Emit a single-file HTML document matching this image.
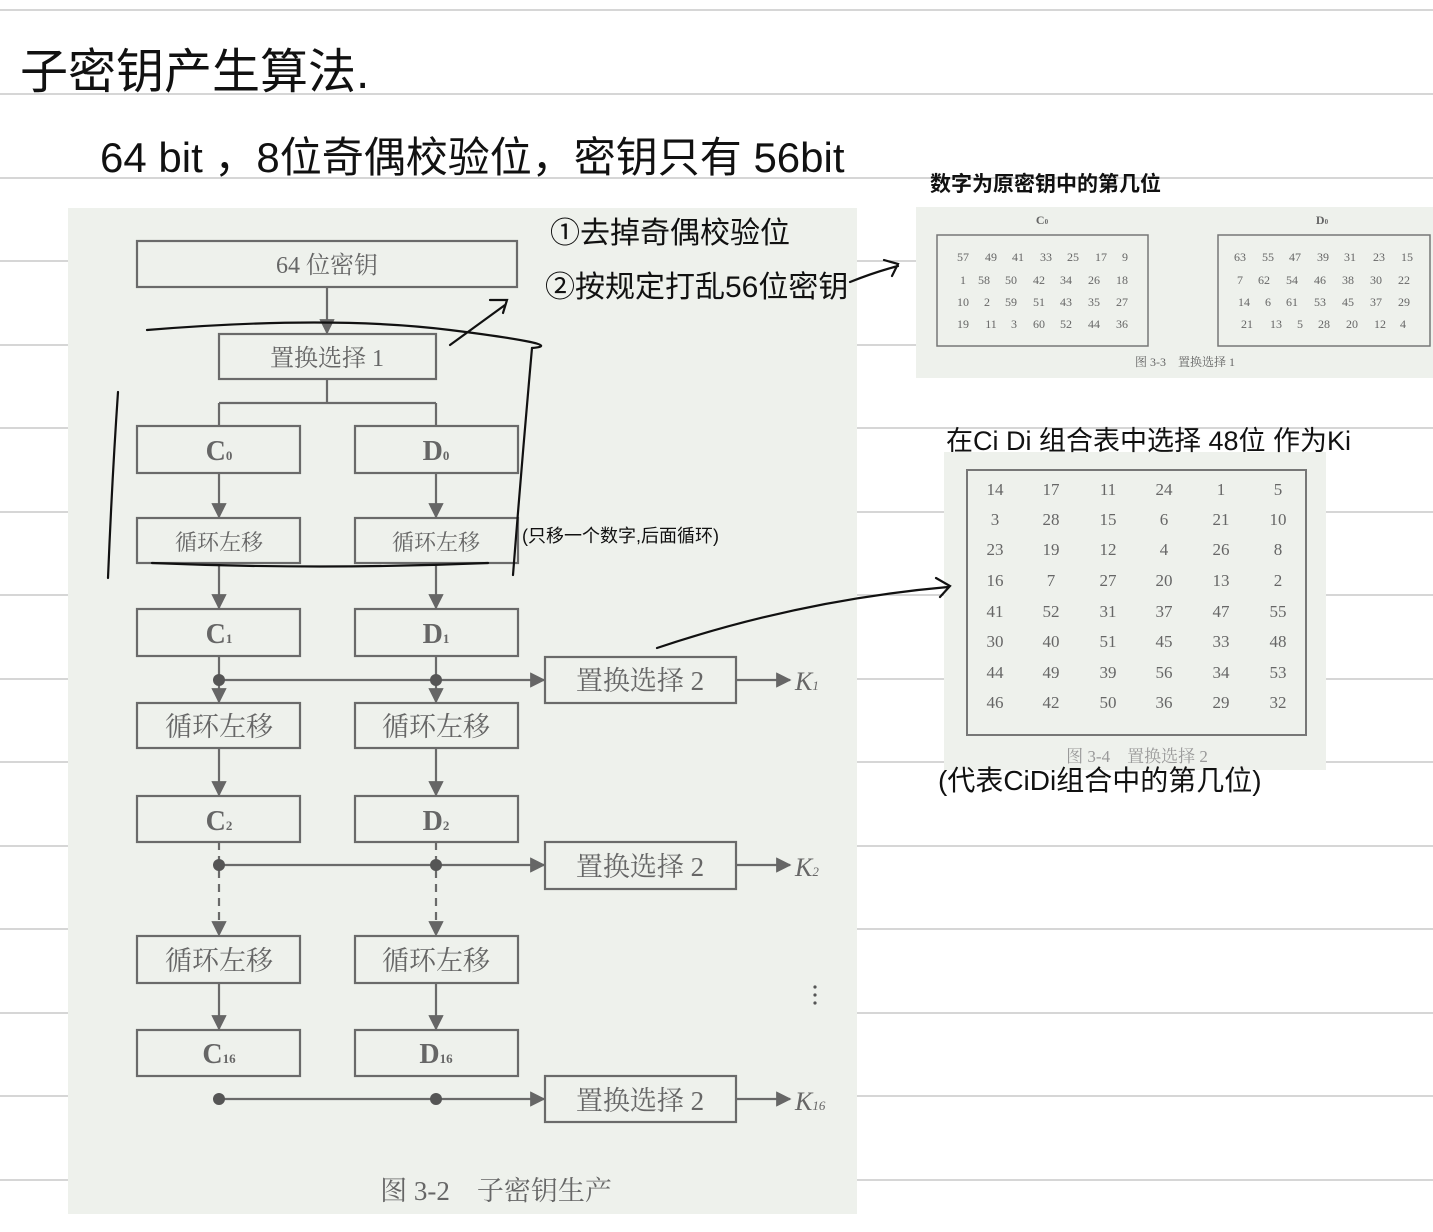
<!DOCTYPE html>
<html><head><meta charset="utf-8"><style>
html,body{margin:0;padding:0;background:#fff;}
svg{display:block}
.h{font-family:"Liberation Sans","Noto Sans CJK SC",sans-serif;fill:#111;}
.p{font-family:"Liberation Serif","Noto Serif CJK SC",serif;fill:#666;}
</style></head><body>
<svg width="1433" height="1232" viewBox="0 0 1433 1232" xmlns="http://www.w3.org/2000/svg">
<defs>
<marker id="a" viewBox="0 0 10 10" refX="9" refY="5" markerWidth="7" markerHeight="7" orient="auto"><path d="M0,0L10,5L0,10z" fill="#666"/></marker>
</defs>
<g stroke="#c8c8c8" stroke-width="1.5">
<line x1="0" y1="10" x2="1433" y2="10"/><line x1="0" y1="94" x2="1433" y2="94"/><line x1="0" y1="178" x2="1433" y2="178"/><line x1="0" y1="261" x2="1433" y2="261"/><line x1="0" y1="345" x2="1433" y2="345"/><line x1="0" y1="428" x2="1433" y2="428"/><line x1="0" y1="512" x2="1433" y2="512"/><line x1="0" y1="595" x2="1433" y2="595"/><line x1="0" y1="679" x2="1433" y2="679"/><line x1="0" y1="762" x2="1433" y2="762"/><line x1="0" y1="846" x2="1433" y2="846"/><line x1="0" y1="929" x2="1433" y2="929"/><line x1="0" y1="1013" x2="1433" y2="1013"/><line x1="0" y1="1096" x2="1433" y2="1096"/><line x1="0" y1="1180" x2="1433" y2="1180"/>
</g>
<rect x="68" y="208" width="789" height="1006" fill="#eef1ec"/>
<rect x="916" y="207" width="517" height="171" fill="#eef1ec"/>
<rect x="944" y="452" width="382" height="318" fill="#eef1ec"/>

<g fill="none" stroke="#6a6a6a" stroke-width="2.2">
<rect x="137" y="241" width="380" height="46"/>
<rect x="219" y="334" width="217" height="45"/>
<rect x="137" y="426" width="163" height="47"/><rect x="355" y="426" width="163" height="47"/>
<rect x="137" y="518" width="163" height="45"/><rect x="355" y="518" width="163" height="45"/>
<rect x="137" y="609" width="163" height="47"/><rect x="355" y="609" width="163" height="47"/>
<rect x="545" y="657" width="191" height="46"/>
<rect x="137" y="703" width="163" height="45"/><rect x="355" y="703" width="163" height="45"/>
<rect x="137" y="796" width="163" height="46"/><rect x="355" y="796" width="163" height="46"/>
<rect x="545" y="842" width="191" height="47"/>
<rect x="137" y="936" width="163" height="47"/><rect x="355" y="936" width="163" height="47"/>
<rect x="137" y="1030" width="163" height="46"/><rect x="355" y="1030" width="163" height="46"/>
<rect x="545" y="1076" width="191" height="46"/>
<path d="M327,379V403M219,403H436M219,403V426M436,403V426"/>
</g>
<g stroke="#6a6a6a" stroke-width="2.2" marker-end="url(#a)">
<line x1="327" y1="287" x2="327" y2="333"/>
<line x1="219" y1="473" x2="219" y2="517"/><line x1="436" y1="473" x2="436" y2="517"/>
<line x1="219" y1="563" x2="219" y2="608"/><line x1="436" y1="563" x2="436" y2="608"/>
<line x1="219" y1="656" x2="219" y2="702"/><line x1="436" y1="656" x2="436" y2="702"/>
<line x1="219" y1="748" x2="219" y2="795"/><line x1="436" y1="748" x2="436" y2="795"/>
<line x1="219" y1="842" x2="219" y2="935" stroke-dasharray="8,6"/><line x1="436" y1="842" x2="436" y2="935" stroke-dasharray="8,6"/>
<line x1="219" y1="983" x2="219" y2="1029"/><line x1="436" y1="983" x2="436" y2="1029"/>
<line x1="219" y1="680" x2="544" y2="680"/><line x1="219" y1="865" x2="544" y2="865"/><line x1="219" y1="1099" x2="544" y2="1099"/>
<line x1="736" y1="680" x2="790" y2="680"/><line x1="736" y1="865" x2="790" y2="865"/><line x1="736" y1="1099" x2="790" y2="1099"/>
</g>
<g fill="#555"><circle cx="219" cy="680" r="6"/><circle cx="436" cy="680" r="6"/><circle cx="219" cy="865" r="6"/><circle cx="436" cy="865" r="6"/><circle cx="219" cy="1099" r="6"/><circle cx="436" cy="1099" r="6"/>
<circle cx="815" cy="987" r="1.6"/><circle cx="815" cy="995" r="1.6"/><circle cx="815" cy="1003" r="1.6"/></g>
<g class="p" text-anchor="middle" font-size="24">
<text x="327" y="273">64 位密钥</text>
<text x="327" y="366">置换选择 1</text>
<text x="219" y="550" font-size="22">循环左移</text><text x="436" y="550" font-size="22">循环左移</text>
<text x="219" y="736" font-size="27">循环左移</text><text x="436" y="736" font-size="27">循环左移</text>
<text x="219" y="970" font-size="27">循环左移</text><text x="436" y="970" font-size="27">循环左移</text>
<text x="640" y="690" font-size="27">置换选择 2</text><text x="640" y="876" font-size="27">置换选择 2</text><text x="640" y="1110" font-size="27">置换选择 2</text>
<text x="496" y="1200" font-size="27">图 3-2　子密钥生产</text>
</g>
<g class="p" font-weight="bold" font-size="28" text-anchor="middle">
<text x="219" y="460">C<tspan font-size="13">0</tspan></text><text x="436" y="460">D<tspan font-size="13">0</tspan></text>
<text x="219" y="643">C<tspan font-size="13">1</tspan></text><text x="436" y="643">D<tspan font-size="13">1</tspan></text>
<text x="219" y="830">C<tspan font-size="13">2</tspan></text><text x="436" y="830">D<tspan font-size="13">2</tspan></text>
<text x="219" y="1063">C<tspan font-size="13">16</tspan></text><text x="436" y="1063">D<tspan font-size="13">16</tspan></text>
</g>
<g class="p" font-style="italic" font-size="26">
<text x="795" y="690">K<tspan font-size="13">1</tspan></text><text x="795" y="876">K<tspan font-size="13">2</tspan></text><text x="795" y="1110">K<tspan font-size="13">16</tspan></text>
</g>

<g fill="none" stroke="#777" stroke-width="1.5"><rect x="937" y="235" width="211" height="111"/><rect x="1218" y="235" width="212" height="111"/><rect x="967" y="470" width="339" height="265" stroke-width="2"/></g>
<g class="p" font-size="12" text-anchor="middle">
<text x="1042" y="224" font-weight="bold">C<tspan font-size="7">0</tspan></text><text x="1322" y="224" font-weight="bold">D<tspan font-size="7">0</tspan></text>
<text x="1185" y="366">图 3-3　置换选择 1</text>
</g>
<g class="p" font-size="12" text-anchor="middle">
<text y="261"><tspan x="963">57</tspan><tspan x="991">49</tspan><tspan x="1018">41</tspan><tspan x="1046">33</tspan><tspan x="1073">25</tspan><tspan x="1101">17</tspan><tspan x="1125">9</tspan></text>
<text y="284"><tspan x="963">1</tspan><tspan x="984">58</tspan><tspan x="1011">50</tspan><tspan x="1039">42</tspan><tspan x="1066">34</tspan><tspan x="1094">26</tspan><tspan x="1122">18</tspan></text>
<text y="306"><tspan x="963">10</tspan><tspan x="987">2</tspan><tspan x="1011">59</tspan><tspan x="1039">51</tspan><tspan x="1066">43</tspan><tspan x="1094">35</tspan><tspan x="1122">27</tspan></text>
<text y="328"><tspan x="963">19</tspan><tspan x="991">11</tspan><tspan x="1014">3</tspan><tspan x="1039">60</tspan><tspan x="1066">52</tspan><tspan x="1094">44</tspan><tspan x="1122">36</tspan></text>
<text y="261"><tspan x="1240">63</tspan><tspan x="1268">55</tspan><tspan x="1295">47</tspan><tspan x="1323">39</tspan><tspan x="1350">31</tspan><tspan x="1379">23</tspan><tspan x="1407">15</tspan></text>
<text y="284"><tspan x="1240">7</tspan><tspan x="1264">62</tspan><tspan x="1292">54</tspan><tspan x="1320">46</tspan><tspan x="1348">38</tspan><tspan x="1376">30</tspan><tspan x="1404">22</tspan></text>
<text y="306"><tspan x="1244">14</tspan><tspan x="1268">6</tspan><tspan x="1292">61</tspan><tspan x="1320">53</tspan><tspan x="1348">45</tspan><tspan x="1376">37</tspan><tspan x="1404">29</tspan></text>
<text y="328"><tspan x="1247">21</tspan><tspan x="1276">13</tspan><tspan x="1300">5</tspan><tspan x="1324">28</tspan><tspan x="1352">20</tspan><tspan x="1380">12</tspan><tspan x="1403">4</tspan></text>
</g>
<g class="p" font-size="17" text-anchor="middle">
<text y="495"><tspan x="995">14</tspan><tspan x="1051">17</tspan><tspan x="1108">11</tspan><tspan x="1164">24</tspan><tspan x="1221">1</tspan><tspan x="1278">5</tspan></text>
<text y="525"><tspan x="995">3</tspan><tspan x="1051">28</tspan><tspan x="1108">15</tspan><tspan x="1164">6</tspan><tspan x="1221">21</tspan><tspan x="1278">10</tspan></text>
<text y="555"><tspan x="995">23</tspan><tspan x="1051">19</tspan><tspan x="1108">12</tspan><tspan x="1164">4</tspan><tspan x="1221">26</tspan><tspan x="1278">8</tspan></text>
<text y="586"><tspan x="995">16</tspan><tspan x="1051">7</tspan><tspan x="1108">27</tspan><tspan x="1164">20</tspan><tspan x="1221">13</tspan><tspan x="1278">2</tspan></text>
<text y="617"><tspan x="995">41</tspan><tspan x="1051">52</tspan><tspan x="1108">31</tspan><tspan x="1164">37</tspan><tspan x="1221">47</tspan><tspan x="1278">55</tspan></text>
<text y="647"><tspan x="995">30</tspan><tspan x="1051">40</tspan><tspan x="1108">51</tspan><tspan x="1164">45</tspan><tspan x="1221">33</tspan><tspan x="1278">48</tspan></text>
<text y="678"><tspan x="995">44</tspan><tspan x="1051">49</tspan><tspan x="1108">39</tspan><tspan x="1164">56</tspan><tspan x="1221">34</tspan><tspan x="1278">53</tspan></text>
<text y="708"><tspan x="995">46</tspan><tspan x="1051">42</tspan><tspan x="1108">50</tspan><tspan x="1164">36</tspan><tspan x="1221">29</tspan><tspan x="1278">32</tspan></text>
<text x="1137" y="762" fill="#999">图 3-4　置换选择 2</text>
</g>

<g fill="none" stroke="#111" stroke-width="2.2" stroke-linecap="round">
<path d="M147,330 Q330,315 450,330 T532,348"/>
<path d="M532,348 Q522,460 513,575"/>
<path d="M118,392 Q112,480 108,578"/>
<path d="M152,563 Q320,570 488,563"/>
<path d="M450,345 L505,305 M490,300 L507,300 L503,313"/>
<path d="M850,282 Q875,272 898,266 M884,260 L898,264 L892,276"/>
<path d="M657,648 Q800,600 948,587 M936,578 L950,586 L940,597"/>
</g>
<g class="h">
<text x="20" y="88" font-size="48">子密钥产生算法.</text>
<text x="100" y="172" font-size="42">64 bit ，8位奇偶校验位，密钥只有 56bit</text>
<text x="550" y="243" font-size="30">①去掉奇偶校验位</text>
<text x="545" y="297" font-size="30">②按规定打乱56位密钥</text>
<text x="522" y="542" font-size="18">(只移一个数字,后面循环)</text>
<text x="930" y="191" font-size="21" font-weight="bold">数字为原密钥中的第几位</text>
<text x="946" y="450" font-size="27">在Ci Di 组合表中选择 48位 作为Ki</text>
<text x="938" y="790" font-size="28">(代表CiDi组合中的第几位)</text>
</g>
</svg>
</body></html>
